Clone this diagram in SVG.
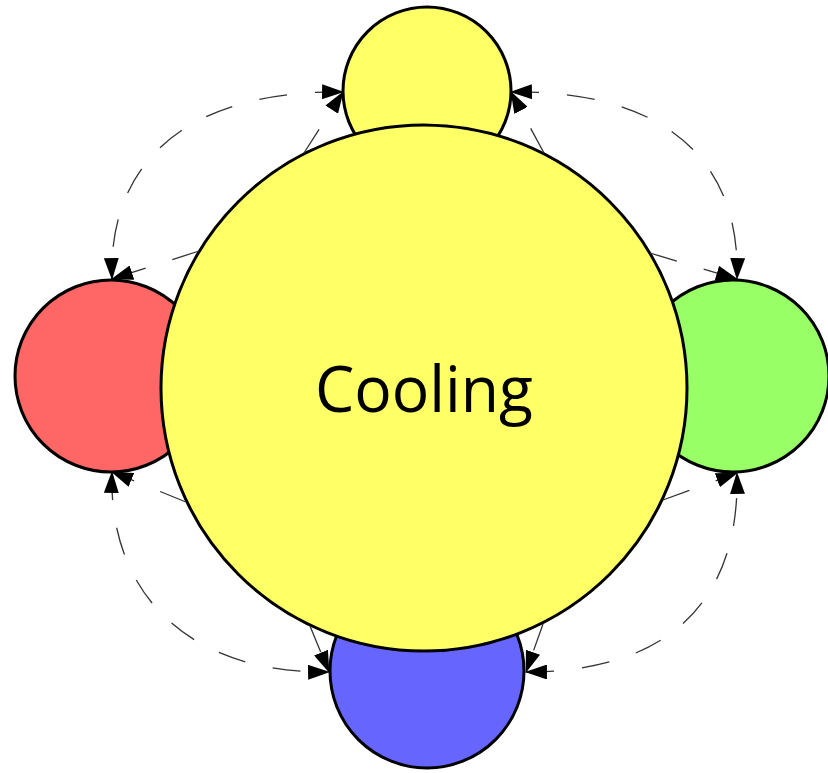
<svg xmlns="http://www.w3.org/2000/svg" width="828" height="773" viewBox="0 0 828 773">
  <style>
    .node { stroke: #000; stroke-width: 3; }
    .conn { fill: none; stroke: #333; stroke-width: 1.3; stroke-dasharray: 28 28; }
    .label { font-family: "Open Sans", "Liberation Sans", sans-serif; font-size: 64px; fill: #000; }
  </style>
  <defs>
    <marker id="arrow" viewBox="0 0 22 15" markerWidth="17" markerHeight="11.5" refX="21" refY="7.5" orient="auto-start-reverse" markerUnits="strokeWidth">
      <path d="M0,0 L22,7.5 L0,15 z" fill="#000"/>
    </marker>
  </defs>
  <rect width="828" height="773" fill="#fff"/>
  <g id="node-top">
    <circle class="node" cx="427" cy="91" r="84" fill="#FFFF66"/>
  </g>
  <g id="node-left">
    <circle class="node" cx="111" cy="376" r="96" fill="#FF6666"/>
  </g>
  <g id="node-right">
    <circle class="node" cx="733" cy="376" r="96" fill="#99FF66"/>
  </g>
  <g id="node-bottom">
    <circle class="node" cx="427" cy="671" r="97" fill="#6666FF"/>
  </g>
  <g id="node-cooling">
    <circle class="node" cx="424" cy="388" r="263" fill="#FFFF66"/>
    <text class="label" x="424" y="412" text-anchor="middle" textLength="218" lengthAdjust="spacingAndGlyphs">Cooling</text>
  </g>
  <g id="connectors">
    <path class="conn" d="M343,92 C190,90 108,160 112,279" marker-start="url(#arrow)" marker-end="url(#arrow)"/>
    <path class="conn" d="M511,92 C664,90 741,160 737,279" marker-start="url(#arrow)" marker-end="url(#arrow)"/>
    <path class="conn" d="M112,472 C108,590 185,674 329,672" marker-start="url(#arrow)" marker-end="url(#arrow)"/>
    <path class="conn" d="M526,672 C670,672 740,600 737,473" marker-start="url(#arrow)" marker-end="url(#arrow)"/>
    <path class="conn" d="M304,153 L343,92" marker-end="url(#arrow)"/>
    <path class="conn" d="M544,153 L511,92" marker-end="url(#arrow)"/>
    <path class="conn" d="M199,251 L112,279" marker-end="url(#arrow)"/>
    <path class="conn" d="M650,253 L737,279" marker-end="url(#arrow)"/>
    <path class="conn" d="M186,502 L112,472" marker-end="url(#arrow)"/>
    <path class="conn" d="M663,500 L737,473" marker-end="url(#arrow)"/>
    <path class="conn" d="M310,626 L329,672" marker-end="url(#arrow)"/>
    <path class="conn" d="M543,624 L526,672" marker-end="url(#arrow)"/>
  </g>
</svg>
